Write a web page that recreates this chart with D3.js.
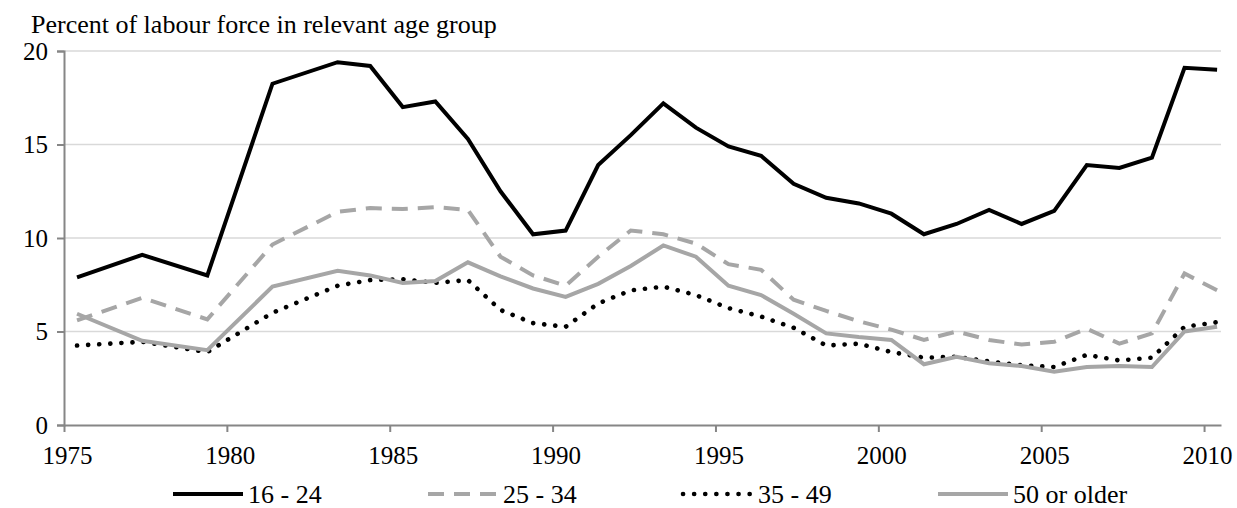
<!DOCTYPE html>
<html>
<head>
<meta charset="utf-8">
<script src="https://cdn.jsdelivr.net/npm/d3@7"></script>
<style>
  body { margin: 0; background: #fff; }
  svg text { font-family: "Liberation Serif", "Times New Roman", serif !important; fill: #000; }
</style>
</head>
<body>
<div id="chart"></div>
<script>
// survey years (biennial until 1983, then annual)
var years = [1975, 1977, 1979, 1981, 1983, 1984, 1985, 1986, 1987, 1988, 1989, 1990,
  1991, 1992, 1993, 1994, 1995, 1996, 1997, 1998, 1999, 2000, 2001, 2002, 2003,
  2004, 2005, 2006, 2007, 2008, 2009, 2010];

var age16to24 = [7.9, 9.1, 8.0, 18.25, 19.4, 19.2, 17.0, 17.3, 15.3, 12.5, 10.2, 10.4,
  13.9, 15.5, 17.2, 15.9, 14.9, 14.4, 12.9, 12.15, 11.85, 11.3, 10.2, 10.75, 11.5,
  10.75, 11.45, 13.9, 13.75, 14.3, 19.1, 19.0];

var age25to34 = [5.6, 6.8, 5.65, 9.65, 11.4, 11.6, 11.55, 11.65, 11.5, 9.0, 8.0, 7.45,
  9.0, 10.4, 10.2, 9.7, 8.6, 8.3, 6.7, 6.1, 5.55, 5.1, 4.55, 5.0, 4.55,
  4.3, 4.45, 5.15, 4.35, 4.9, 8.1, 7.2];

var age35to49 = [4.25, 4.45, 3.9, 6.0, 7.45, 7.75, 7.8, 7.6, 7.75, 6.15, 5.45, 5.25,
  6.5, 7.2, 7.4, 6.95, 6.25, 5.8, 5.2, 4.25, 4.35, 3.9, 3.6, 3.65, 3.4,
  3.2, 3.1, 3.75, 3.45, 3.6, 5.25, 5.5];

var age50plus = [5.95, 4.5, 4.0, 7.4, 8.25, 8.0, 7.6, 7.7, 8.7, 7.95, 7.3, 6.85,
  7.55, 8.5, 9.6, 9.0, 7.45, 6.95, 5.95, 4.9, 4.7, 4.55, 3.25, 3.65, 3.3,
  3.15, 2.85, 3.1, 3.15, 3.1, 5.0, 5.25];

var seriesNames = ["16 - 24", "25 - 34", "35 - 49", "50 or older"];
var yTicks = [0, 5, 10, 15, 20];
var xTicks = [1975, 1980, 1985, 1990, 1995, 2000, 2005, 2010];

var width = 1237,
  height = 508;

var svg = d3.select("#chart")
  .append("svg")
  .attr("width", width)
  .attr("height", height);

var x = d3.scaleLinear().domain([1975, 2010.52]).range([64, 1221]);
var y = d3.scaleLinear().domain([0, 20]).range([425, 51]);

// each series gets its own look, excel style
var styles = [
  { color: "#000000", width: 4, dash: null, cap: "butt" },
  { color: "#a6a6a6", width: 4, dash: "16 10", cap: "butt" },
  { color: "#000000", width: 4.6, dash: "0.1 11", cap: "round" },
  { color: "#a6a6a6", width: 4, dash: null, cap: "butt" }
];

var allSeries = [age16to24, age25to34, age35to49, age50plus].map(function (vals, i) {
  return {
    name: seriesNames[i],
    style: styles[i],
    points: vals.map(function (v, j) { return { year: years[j], value: v } })
  }
});

// horizontal gridlines
svg.append("g")
  .selectAll("line")
  .data(yTicks.filter(function (d) { return d > 0 }))
  .enter().append("line")
  .attr("x1", x(1975))
  .attr("x2", x.range()[1])
  .attr("y1", function (d) { return y(d) })
  .attr("y2", function (d) { return y(d) })
  .attr("stroke", "#d9d9d9")
  .attr("stroke-width", 1.5);

// y axis
var yAxis = svg.append("g")
  .attr("transform", "translate(" + x(1975) + ",0)")
  .call(d3.axisLeft(y).tickValues(yTicks).tickSize(7).tickPadding(9).tickFormat(d3.format("d")));

// x axis (no outer tick at the right end)
var xAxis = svg.append("g")
  .attr("transform", "translate(0," + y(0) + ")")
  .call(d3.axisBottom(x).tickValues(xTicks).tickSizeInner(7).tickSizeOuter(0)
    .tickPadding(14).tickFormat(d3.format("d")));

[yAxis, xAxis].forEach(function (ax) {
  ax.attr("font-family", "Liberation Serif").attr("font-size", 25);
  ax.select(".domain").attr("stroke", "#868686").attr("stroke-width", 2);
  ax.selectAll(".tick line").attr("stroke", "#868686").attr("stroke-width", 2);
  ax.selectAll(".tick text").attr("fill", "#000");
});
xAxis.selectAll(".tick text").attr("dx", 3);

// the data points sit a bit after the year tick
var line = d3.line()
  .x(function (d) { return x(d.year + 0.4) })
  .y(function (d) { return y(d.value) });

svg.append("g")
  .selectAll("path")
  .data(allSeries)
  .enter().append("path")
  .attr("d", function (d) { return line(d.points) })
  .attr("fill", "none")
  .attr("stroke", function (d) { return d.style.color })
  .attr("stroke-width", function (d) { return d.style.width })
  .attr("stroke-dasharray", function (d) { return d.style.dash })
  .attr("stroke-linecap", function (d) { return d.style.cap })
  .attr("stroke-linejoin", "miter");

// axis title on top
svg.append("text")
  .attr("x", 31)
  .attr("y", 33)
  .attr("font-size", 26)
  .text("Percent of labour force in relevant age group");

// legend
var legend = svg.append("g")
  .selectAll("g")
  .data(allSeries)
  .enter().append("g")
  .attr("transform", function (d, i) { return "translate(" + (173 + i * 255) + ",494)" });

legend.append("line")
  .attr("x1", 0)
  .attr("x2", 70)
  .attr("stroke", function (d) { return d.style.color })
  .attr("stroke-width", function (d) { return d.style.width })
  .attr("stroke-dasharray", function (d) { return d.style.dash })
  .attr("stroke-linecap", function (d) { return d.style.cap });

legend.append("text")
  .attr("x", 75)
  .attr("dy", "0.35em")
  .attr("font-size", 26)
  .text(function (d) { return d.name });
</script>
</body>
</html>
